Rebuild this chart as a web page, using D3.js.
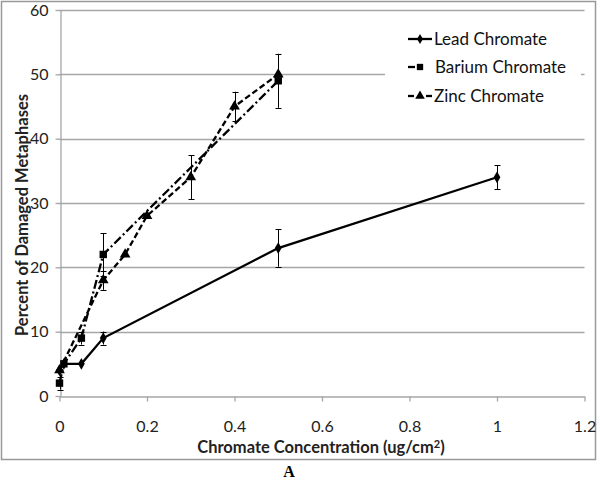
<!DOCTYPE html>
<html><head><meta charset="utf-8">
<script src="https://cdn.jsdelivr.net/npm/d3@7"></script>
<style>body{margin:0;background:#fff}svg{display:block}text{font-family:Lato,"Open Sans",sans-serif}</style>
</head><body><svg id="c" width="600" height="482"></svg>
<script>
const xTicks=[0,0.2,0.4,0.6,0.8,1,1.2];
const yTicks=[0,10,20,30,40,50,60];
const leadX=[0,0.01,0.05,0.1,0.5,1];
const leadY=[4,5,5,9,23,34];
const leadErr=[0,0,0,1,2.9,1.9];
const bariumX=[0,0.01,0.05,0.1,0.5];
const bariumY=[2,5,9,22,49];
const bariumErr=[1,0,1,3.3,4.2];
const zincX=[0,0.1,0.15,0.2,0.3,0.4,0.5];
const zincY=[4,18,22,28,34,45,50];
const zincErr=[0,1.5,0,0,3.4,2.3,0];
const seriesNames=["Lead Chromate","Barium Chromate","Zinc Chromate"];

const svg=d3.select("#c");
svg.append("rect").attr("x",1.5).attr("y",1.5).attr("width",594).attr("height",458).attr("fill","none").attr("stroke","#999").attr("stroke-width",1.5);
const x=d3.scaleLinear().domain([0,1.2]).range([59.5,584.5]);
const y=d3.scaleLinear().domain([0,60]).range([396,10]);

svg.append("g").selectAll("line").data(yTicks.slice(1)).join("line")
 .attr("x1",x(0)).attr("x2",x(1.2)).attr("y1",d=>Math.round(y(d))+0.5).attr("y2",d=>Math.round(y(d))+0.5)
 .attr("stroke","#a6a6a6").attr("stroke-width",1.3);
const gx=svg.append("g").attr("transform",`translate(0,${Math.round(y(0))+0.5})`)
 .call(d3.axisBottom(x).tickValues(xTicks).tickFormat(d=>d).tickSizeInner(5).tickSizeOuter(0).tickPadding(19));
const gy=svg.append("g").attr("transform",`translate(${Math.round(x(0))+0.5},0)`)
 .call(d3.axisLeft(y).tickValues(yTicks).tickSizeInner(5).tickSizeOuter(0).tickPadding(7));
[gx,gy].forEach(g=>{g.select(".domain").attr("stroke","#a6a6a6").attr("stroke-width",1.3);
 g.selectAll(".tick line").attr("stroke","#a6a6a6").attr("stroke-width",1.3);
 g.selectAll("text").attr("font-size",16).attr("fill","#222").style("font-family","Lato,sans-serif");});

const mk=(X,Y,E)=>X.map((v,i)=>({x:v,y:Y[i],e:E[i]}));
const lead=mk(leadX,leadY,leadErr), barium=mk(bariumX,bariumY,bariumErr), zinc=mk(zincX,zincY,zincErr);
const line=d3.line().x(d=>x(d.x)).y(d=>y(d.y));
const dashes=[null,"9,3,2,3","6,3"];
const syms=[d3.symbolDiamond,d3.symbolSquare,d3.symbolTriangle];
const sizes=[40,55,50];
[lead,barium,zinc].forEach((s,k)=>{
 svg.append("path").datum(s).attr("d",line).attr("fill","none").attr("stroke","#000").attr("stroke-width",2.3)
  .attr("stroke-dasharray",dashes[k]);
});
[lead,barium,zinc].forEach((s,k)=>{
 const eb=svg.append("g").attr("stroke","#000").attr("stroke-width",1);
 s.filter(d=>d.e>0).forEach(d=>{
  const cx=Math.round(x(d.x))+0.5;
  eb.append("line").attr("x1",cx).attr("x2",cx).attr("y1",y(d.y+d.e)).attr("y2",y(d.y-d.e));
  [d.y+d.e,d.y-d.e].forEach(v=>eb.append("line").attr("x1",cx-3).attr("x2",cx+3).attr("y1",Math.round(y(v))+0.5).attr("y2",Math.round(y(v))+0.5));
 });
 svg.append("g").selectAll("path").data(s).join("path")
  .attr("d",d3.symbol().type(syms[k]).size(sizes[k])).attr("transform",d=>`translate(${x(d.x)},${y(d.y)})`).attr("fill","#000");
});

const lg=svg.append("g");
lg.append("rect").attr("x",385).attr("y",22).attr("width",196).attr("height",88).attr("fill","#fff");
const ly=[39,67,96];
seriesNames.forEach((n,k)=>{
 const row=lg.append("g").attr("transform",`translate(0,${ly[k]})`);
 if(k===0) row.append("line").attr("x1",408).attr("x2",432).attr("stroke","#000").attr("stroke-width",2.3);
 if(k===1){row.append("line").attr("x1",408).attr("x2",415).attr("stroke","#000").attr("stroke-width",2.3);}
 if(k===2){row.append("line").attr("x1",408).attr("x2",414).attr("stroke","#000").attr("stroke-width",2.3);
  row.append("line").attr("x1",426).attr("x2",432).attr("stroke","#000").attr("stroke-width",2.3);}
 row.append("path").attr("d",d3.symbol().type(syms[k]).size(k===0?30:40)).attr("transform","translate(420,0)").attr("fill","#000");
 row.append("text").attr("x",k===1?435:434).attr("dy","0.35em").attr("font-size",17).attr("fill","#111").text(n);
});

const xt=svg.append("text").attr("x",321).attr("y",453).attr("text-anchor","middle").attr("font-size",16.5).attr("font-weight","bold").attr("fill","#222");
xt.append("tspan").text("Chromate Concentration (ug/cm");
xt.append("tspan").attr("dy",-5).attr("font-size",11).text("2");
xt.append("tspan").attr("dy",5).text(")");
svg.append("text").attr("transform","translate(28,215) rotate(-90)").attr("text-anchor","middle").attr("font-size",16.5).attr("font-weight","bold").attr("fill","#222").text("Percent of Damaged Metaphases");
svg.append("text").attr("x",289).attr("y",477).attr("text-anchor","middle").attr("font-size",16).attr("font-weight","bold").style("font-family","'Liberation Serif',serif").text("A");
</script></body></html>
